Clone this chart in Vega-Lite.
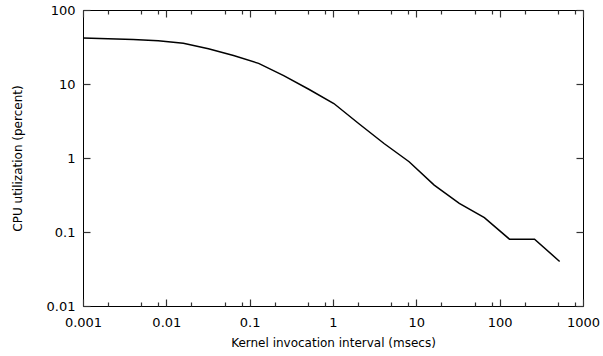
{
  "$schema": "https://vega.github.io/schema/vega-lite/v6.json",
  "width": 500,
  "height": 296,
  "autosize": "none",
  "padding": {"left": 83, "top": 10, "right": 20, "bottom": 50},
  "background": "white",
  "config": {
    "view": {"stroke": "black", "strokeWidth": 1},
    "font": "DejaVu Sans",
    "axis": {
      "labelFont": "DejaVu Sans",
      "labelFontSize": 13,
      "labelColor": "black",
      "titleFont": "DejaVu Sans",
      "titleFontSize": 12,
      "titleFontWeight": "normal",
      "titleColor": "black",
      "domain": false,
      "ticks": true,
      "tickOpacity": 1,
      "tickSize": 7,
      "offset": -7,
      "grid": false
    }
  },
  "data": {
    "values": [
      {"interval": 0.001, "cpu": 42},
      {"interval": 0.002, "cpu": 41},
      {"interval": 0.004, "cpu": 40},
      {"interval": 0.008, "cpu": 38.5},
      {"interval": 0.016, "cpu": 35.5},
      {"interval": 0.032, "cpu": 30},
      {"interval": 0.064, "cpu": 24.3},
      {"interval": 0.128, "cpu": 19},
      {"interval": 0.256, "cpu": 13},
      {"interval": 0.512, "cpu": 8.5},
      {"interval": 1.024, "cpu": 5.45},
      {"interval": 2.048, "cpu": 2.9},
      {"interval": 4.096, "cpu": 1.57},
      {"interval": 8.192, "cpu": 0.89},
      {"interval": 16.384, "cpu": 0.43},
      {"interval": 32.768, "cpu": 0.243},
      {"interval": 65.536, "cpu": 0.156},
      {"interval": 131.072, "cpu": 0.08},
      {"interval": 262.144, "cpu": 0.08},
      {"interval": 524.288, "cpu": 0.04}
    ]
  },
  "layer": [
    {
      "mark": {"type": "line", "color": "black", "strokeWidth": 1.5},
      "encoding": {
        "x": {
          "field": "interval",
          "type": "quantitative",
          "scale": {"type": "log", "domain": [0.001, 1000], "nice": false},
          "axis": {
            "orient": "bottom",
            "tickColor": "#333333",
            "tickWidth": 1.2,
            "title": "Kernel invocation interval (msecs)",
            "titlePadding": 8,
            "values": [0.001, 0.002, 0.005, 0.008, 0.01, 0.02, 0.05, 0.08, 0.1, 0.2, 0.5, 0.8, 1, 2, 5, 8, 10, 20, 50, 80, 100, 200, 500, 800, 1000],
            "labelExpr": "abs(log(datum.value)/LN10 - round(log(datum.value)/LN10)) < 0.000001 ? format(datum.value, '~g') : ''",
            "tickDash": {"condition": {"test": "abs(log(datum.value)/LN10 - round(log(datum.value)/LN10)) < 0.000001", "value": [10, 0]}, "value": [0, 3, 4, 20]},
            "labelPadding": 10,
            "labelFlush": false,
            "labelOverlap": false
          }
        },
        "y": {
          "field": "cpu",
          "type": "quantitative",
          "scale": {"type": "log", "domain": [0.01, 100], "nice": false},
          "axis": {
            "orient": "left",
            "tickColor": "#333333",
            "tickWidth": 1.2,
            "title": "CPU utilization (percent)",
            "values": [0.01, 0.1, 1, 10, 100],
            "format": "~g",
            "labelPadding": 8,
            "labelFlush": false,
            "labelOverlap": false,
            "titlePadding": 22
          }
        }
      }
    },
    {
      "mark": {"type": "line", "color": "black", "strokeWidth": 1.5, "strokeOpacity": 0},
      "encoding": {
        "x": {
          "field": "interval",
          "type": "quantitative",
          "axis": {
            "orient": "top",
            "tickColor": "#333333",
            "tickWidth": 1.2,
            "title": null,
            "labels": false,
            "values": [0.001, 0.002, 0.005, 0.008, 0.01, 0.02, 0.05, 0.08, 0.1, 0.2, 0.5, 0.8, 1, 2, 5, 8, 10, 20, 50, 80, 100, 200, 500, 800, 1000],
            "tickDash": {"condition": {"test": "abs(log(datum.value)/LN10 - round(log(datum.value)/LN10)) < 0.000001", "value": [10, 0]}, "value": [0, 3, 4, 20]}
          }
        },
        "y": {
          "field": "cpu",
          "type": "quantitative",
          "axis": {
            "orient": "right",
            "tickColor": "#333333",
            "tickWidth": 1.2,
            "title": null,
            "labels": false,
            "values": [0.01, 0.1, 1, 10, 100]
          }
        }
      }
    }
  ],
  "resolve": {"axis": {"x": "independent", "y": "independent"}}
}
